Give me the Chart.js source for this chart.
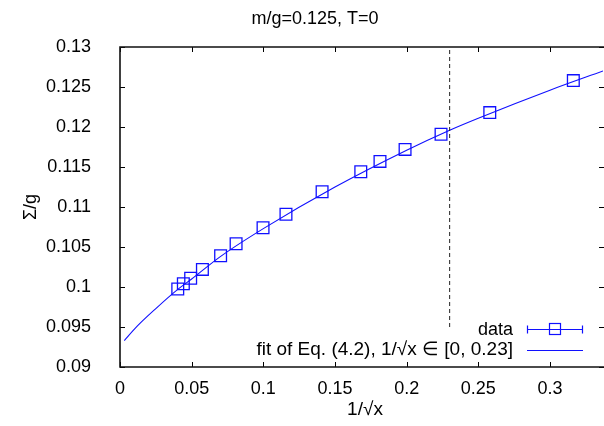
<!DOCTYPE html>
<html>
<head>
<meta charset="utf-8">
<script src="https://cdn.jsdelivr.net/npm/chart.js@4/dist/chart.umd.min.js"></script>
<style>
  html, body { margin: 0; padding: 0; background: #fff; }
  #wrap { width: 604px; height: 426px; position: relative; }
</style>
</head>
<body>
<div id="wrap"><canvas id="sigmaChart"></canvas></div>
<script>
const ctx = document.getElementById("sigmaChart").getContext("2d");

// values
const dataX = [0.0403, 0.0442, 0.0493, 0.0575, 0.0702, 0.0810, 0.0998, 0.1158, 0.1410, 0.1680, 0.1814, 0.1989, 0.2240, 0.2580, 0.3163];
const dataY = [0.09975, 0.1004, 0.1011, 0.1022, 0.1039, 0.1054, 0.1074, 0.1091, 0.1119, 0.1144, 0.1157, 0.1172, 0.1191, 0.1218, 0.1258];

const fitX = [0.003, 0.012, 0.025, 0.0403, 0.05, 0.07, 0.1, 0.15, 0.2, 0.23, 0.25, 0.3, 0.337];
const fitY = [0.0933, 0.0951, 0.0973, 0.0997, 0.1010, 0.1038, 0.1073, 0.1125, 0.1171, 0.1196, 0.1211, 0.1246, 0.1270];

const cutX = [0.23, 0.23];
const cutY = [0.095, 0.13];

const xTicks = [0, 0.05, 0.1, 0.15, 0.2, 0.25, 0.3];
const yTicks = [0.09, 0.095, 0.1, 0.105, 0.11, 0.115, 0.12, 0.125, 0.13];

const titleText = "m/g=0.125, T=0";
const xLabel = "1/\u221Ax";
const yLabel = "\u03A3/g";
const legendLabels = ["data", "fit of Eq. (4.2), 1/\u221Ax \u2208 [0, 0.23]"];

const FAMILY = "'Liberation Sans', Arial, sans-serif";
const FONT = "18px " + FAMILY;
const BLUE = "#1010ff";

const zip = (xs, ys) => xs.map((x, i) => ({ x, y: ys[i] }));

const gnuplotFrame = {
  id: "gnuplotFrame",
  afterDraw(chart) {
    const { ctx, chartArea: a, scales } = chart;
    const right = a.right + 1; // right border sits just past the picture edge
    ctx.save();
    // inward ticks
    ctx.strokeStyle = "#000";
    ctx.lineWidth = 1;
    const tl = 5;
    xTicks.forEach((v) => {
      const px = Math.round(scales.x.getPixelForValue(v)) + 0.5;
      ctx.beginPath();
      ctx.moveTo(px, a.bottom); ctx.lineTo(px, a.bottom - tl);
      ctx.moveTo(px, a.top); ctx.lineTo(px, a.top + tl);
      ctx.stroke();
    });
    yTicks.forEach((v) => {
      const py = Math.round(scales.y.getPixelForValue(v)) + 0.5;
      ctx.beginPath();
      ctx.moveTo(a.left, py); ctx.lineTo(a.left + tl, py);
      ctx.moveTo(right, py); ctx.lineTo(right - tl, py);
      ctx.stroke();
    });
    // frame (left, top, bottom)
    ctx.lineWidth = 1.6;
    ctx.strokeStyle = "#111";
    ctx.beginPath();
    ctx.moveTo(right, a.top); ctx.lineTo(a.left, a.top);
    ctx.lineTo(a.left, a.bottom); ctx.lineTo(right, a.bottom);
    ctx.stroke();

    // texts
    ctx.fillStyle = "#000";
    ctx.font = FONT;
    ctx.textBaseline = "middle";
    ctx.textAlign = "center";
    ctx.fillText(titleText, 315, 19);
    ctx.font = "19px " + FAMILY;
    ctx.fillText(xLabel, 365, 410);
    ctx.save();
    ctx.translate(31, 207);
    ctx.rotate(-Math.PI / 2);
    ctx.font = FONT;
    ctx.fillText(yLabel, 0, 0);
    ctx.restore();

    // key
    ctx.font = FONT;
    ctx.textAlign = "right";
    ctx.fillText(legendLabels[0], 513, 330);
    ctx.font = "19px " + FAMILY;
    ctx.fillText(legendLabels[1], 513, 350);
    ctx.strokeStyle = BLUE;
    ctx.lineWidth = 1.2;
    ctx.beginPath();
    ctx.moveTo(527, 329.5); ctx.lineTo(583, 329.5);
    ctx.moveTo(527.5, 325.5); ctx.lineTo(527.5, 333.5);
    ctx.moveTo(582.5, 325.5); ctx.lineTo(582.5, 333.5);
    ctx.stroke();
    ctx.strokeRect(549.5, 323.5, 11, 11);
    ctx.lineWidth = 1;
    ctx.beginPath();
    ctx.moveTo(527, 350.5); ctx.lineTo(583, 350.5);
    ctx.stroke();
    ctx.restore();
  }
};

new Chart(ctx, {
  type: "scatter",
  data: {
    datasets: [
      {
        label: "cut",
        data: zip(cutX, cutY),
        showLine: true,
        pointRadius: 0,
        borderColor: "#222",
        borderWidth: 1,
        borderDash: [4, 3]
      },
      {
        label: legendLabels[1],
        data: zip(fitX, fitY),
        showLine: true,
        pointRadius: 0,
        borderColor: BLUE,
        borderWidth: 1.1,
        cubicInterpolationMode: "monotone"
      },
      {
        label: legendLabels[0],
        data: zip(dataX, dataY),
        pointStyle: "rect",
        pointRadius: 8.3,
        pointBorderWidth: 1.3,
        pointBackgroundColor: "rgba(0,0,0,0)",
        pointBorderColor: BLUE
      }
    ]
  },
  options: {
    responsive: true,
    maintainAspectRatio: false,
    animation: false,
    events: [],
    layout: { autoPadding: false, padding: { top: 47, right: 1, left: 0, bottom: 0 } },
    plugins: {
      legend: { display: false },
      title: { display: false },
      tooltip: { enabled: false }
    },
    scales: {
      x: {
        type: "linear",
        min: 0,
        max: 0.337,
        afterBuildTicks: (s) => { s.ticks = xTicks.map((v) => ({ value: v })); },
        afterFit: (s) => { s.height = 59; s.paddingRight = 0; s.paddingLeft = 0; },
        grid: { display: false, drawTicks: false },
        border: { display: false },
        ticks: {
          color: "#000",
          font: { family: FAMILY, size: 18 },
          padding: 11,
          maxRotation: 0,
          callback: (v) => String(+v.toFixed(4))
        }
      },
      y: {
        type: "linear",
        min: 0.09,
        max: 0.13,
        afterBuildTicks: (s) => { s.ticks = yTicks.map((v) => ({ value: v })); },
        afterFit: (s) => { s.width = 120; s.paddingTop = 0; s.paddingBottom = 0; },
        grid: { display: false, drawTicks: false },
        border: { display: false },
        ticks: {
          color: "#000",
          font: { family: FAMILY, size: 18 },
          padding: 29,
          callback: (v) => String(+v.toFixed(4))
        }
      }
    }
  },
  plugins: [gnuplotFrame]
});
</script>
</body>
</html>
